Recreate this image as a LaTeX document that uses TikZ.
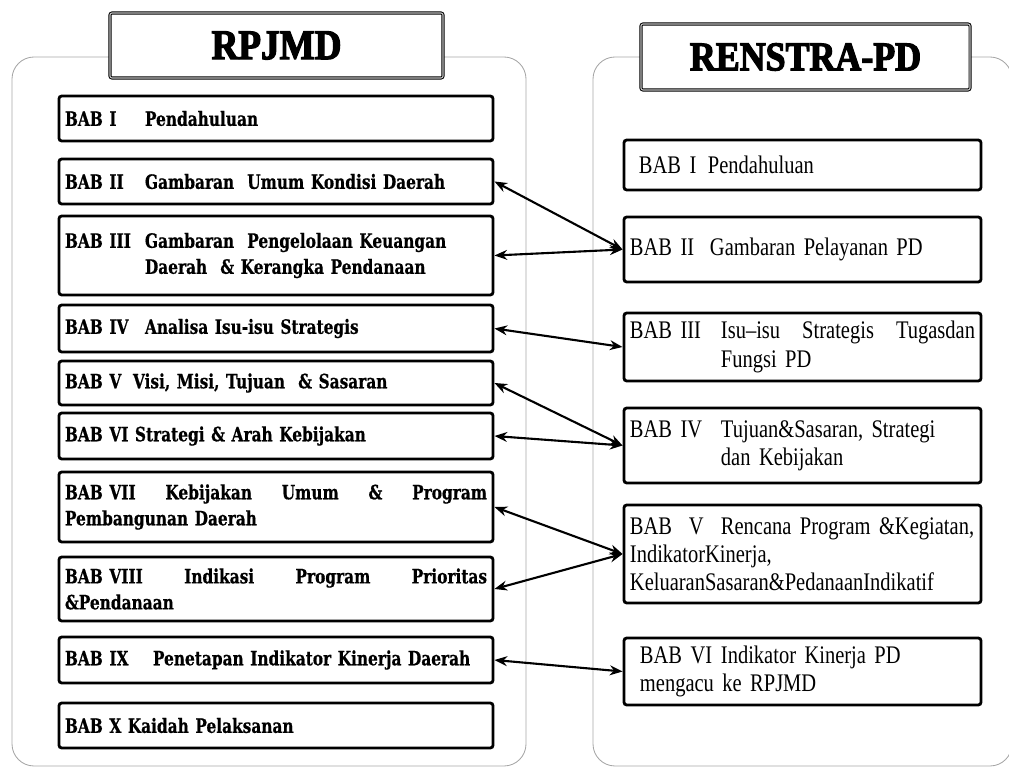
\documentclass[tikz,border=0pt]{standalone}
\usepackage{fontspec}
\setmainfont{Liberation Serif}
\newfontfamily\rpjfont{DejaVu Serif}[FakeStretch=0.78, WordSpace=0.75, BoldFeatures={FakeBold=0.6}]
\newfontfamily\renfont{Liberation Serif}[FakeStretch=0.81, WordSpace=0.8]
\newfontfamily\titlefont{Liberation Serif}[FakeStretch=0.88, BoldFeatures={FakeBold=3}]
\usetikzlibrary{arrows.meta}

\begin{document}
\begin{tikzpicture}[x=0.025cm, y=-0.025cm, panel/.style={draw=gray!70, line width=0.6pt, rounded corners=0.55cm}, ttl/.style={draw=black, line width=0.7pt, double=gray!50, double distance=0.8pt, fill=white, rounded corners=1.5pt, inner sep=0pt, font=\titlefont\bfseries\fontsize{30}{30}\selectfont}, lb/.style={draw, line width=2pt, rounded corners=2pt, minimum width=10.85cm, text width=10.55cm, inner xsep=0.15cm, inner ysep=0pt, align=left, font=\rpjfont\bfseries\fontsize{14}{18.5}\selectfont}, rb/.style={draw, line width=2pt, rounded corners=2pt, minimum width=8.925cm, text width=8.625cm, inner xsep=0.15cm, inner ysep=0pt, align=left, font=\renfont\fontsize{18}{20}\selectfont}, link/.style={{Stealth[length=9pt,width=7pt]}-{Stealth[length=9pt,width=7pt]}, line width=1.5pt}]
	\clip (0,0) rectangle (1009,767);
	% two panels
	\draw[panel] (12,57) rectangle (526,766);
	\draw[panel] (593,57) rectangle (1012,766);
	\node[ttl, minimum width=8.325cm, minimum height=1.625cm] (trpjmd) at (276.5,45.5) {RPJMD};
	\node[ttl, minimum width=8.225cm, minimum height=1.65cm, font=\titlefont\bfseries\fontsize{29}{29}\selectfont] (trenstra) at (805.5,57) {RENSTRA-PD};
	% RPJMD chapters
	\node[lb, minimum height=1.125cm] (l1) at (276,118.5) {\makebox[2cm][l]{BAB I}Pendahuluan};
	\node[lb, minimum height=1.125cm] (l2) at (276,181.5) {\makebox[2cm][l]{BAB II}Gambaran\ \ Umum Kondisi Daerah};
	\node[lb, minimum height=1.975cm] (l3) at (276,255.5) {\makebox[2cm][l]{BAB III}Gambaran\ \ Pengelolaan Keuangan\\\hspace*{2cm}Daerah\ \ \& Kerangka Pendanaan};
	\node[lb, minimum height=1.175cm] (l4) at (276,328.5) {\makebox[2cm][l]{BAB IV}Analisa Isu-isu Strategis};
	\node[lb, minimum height=1.1cm] (l5) at (276,383) {\makebox[1.7cm][l]{BAB V}Visi, Misi, Tujuan\ \ \& Sasaran};
	\node[lb, minimum height=1.15cm] (l6) at (276,436) {\makebox[1.75cm][l]{BAB VI}Strategi \& Arah Kebijakan};
	\node[lb, minimum height=1.75cm] (l7) at (276,507) {BAB VII\hfill Kebijakan\hfill Umum\hfill \&\hfill Program\\Pembangunan Daerah};
	\node[lb, minimum height=1.6cm] (l8) at (276,589) {BAB VIII\hfill Indikasi\hfill Program\hfill Prioritas\\\&Pendanaan};
	\node[lb, minimum height=1.15cm] (l9) at (276,660) {\makebox[2.2cm][l]{BAB IX}Penetapan Indikator\ Kinerja Daerah};
	\node[lb, minimum height=1.125cm] (l10) at (276,725.5) {BAB X Kaidah Pelaksanan};
	% RENSTRA chapters
	\node[rb, minimum height=1.25cm] (r1) at (802.5,165) {\hspace*{0.225cm}\makebox[1.725cm][l]{BAB I}Pendahuluan};
	\node[rb, minimum height=1.625cm] (r2) at (802.5,249.5) {\makebox[2cm][l]{BAB II}Gambaran Pelayanan PD};
	\node[rb, minimum height=1.7cm] (r3) at (802.5,347) {\makebox[2.275cm][l]{BAB III}Isu–isu\hfill Strategis\hfill Tugasdan\\\hspace*{2.275cm}Fungsi PD};
	\node[rb, minimum height=1.875cm] (r4) at (802.5,445.5) {\makebox[2.275cm][l]{BAB IV}Tujuan\&Sasaran, Strategi\\\hspace*{2.275cm}dan Kebijakan};
	\node[rb, minimum height=2.45cm] (r5) at (802.5,554) {\makebox[2.275cm][l]{BAB\ \ V}Rencana Program \&Kegiatan,\\IndikatorKinerja,\\KeluaranSasaran\&PedanaanIndikatif};
	\node[rb, minimum height=1.675cm] (r6) at (802.5,671.5) {\hspace*{0.25cm}\makebox[2.025cm][l]{BAB VI}Indikator Kinerja PD\\\hspace*{0.25cm}mengacu ke RPJMD};
	% links
	\foreach \i/\j in {2/2, 3/2, 4/3, 5/4, 6/4, 7/5, 8/5, 9/6} {\draw[link] (l\i.east) -- (r\j.west);}
\end{tikzpicture}
\end{document}
